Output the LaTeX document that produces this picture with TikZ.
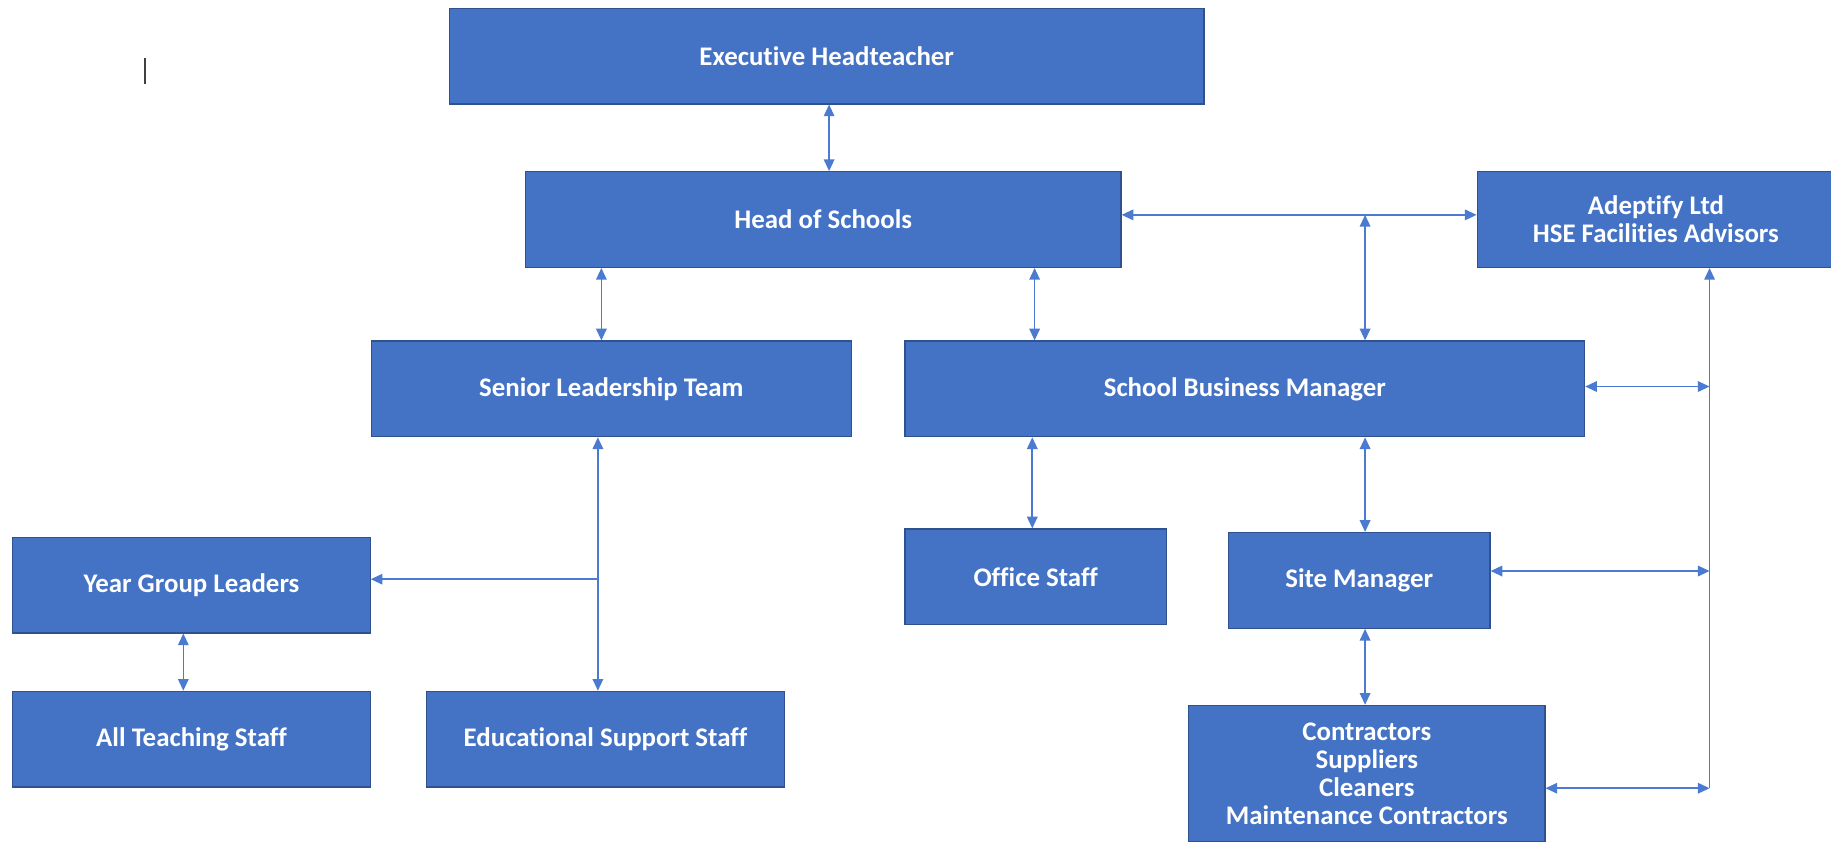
\documentclass[tikz,border=0pt]{standalone}
\usepackage{fontspec}
\setmainfont[Ligatures={NoCommon}]{Carlito}
\usetikzlibrary{arrows.meta}

\definecolor{roleblue}{HTML}{4472C4}
\definecolor{roleedge}{HTML}{2F528F}
\definecolor{linkblue}{HTML}{4A7BD0}
\definecolor{caretgray}{HTML}{404040}

\tikzset{
  role/.style={draw=roleedge, fill=roleblue, line width=1pt, text=white,
    font=\bfseries\fontsize{23}{24}\selectfont, align=center,
    inner sep=0pt, minimum height=82pt},
  link/.style={draw=linkblue, line width=1.4pt, {Triangle[length=10pt,width=9pt]}-{Triangle[length=10pt,width=9pt]}},
  onelink/.style={draw=linkblue, line width=1.4pt, -{Triangle[length=10pt,width=9pt]}},
}

\begin{document}
\begin{tikzpicture}[x=1pt, y=-1pt]

    \useasboundingbox (0,0) rectangle (1568,721);

    % Define nodes
    \node[role, minimum width=646pt]                      (exec)   at (708,48)      {Executive Headteacher};
    \node[role, minimum width=510pt]                      (hos)    at (705,188)     {Head of Schools};
    \node[role, minimum width=306pt]                      (adept)  at (1418,188)    {Adeptify Ltd\\HSE Facilities Advisors};
    \node[role, minimum width=411pt]                      (slt)    at (523.5,333)   {Senior Leadership Team};
    \node[role, minimum width=582pt]                      (sbm)    at (1066,333)    {School Business Manager};
    \node[role, minimum width=306pt]                      (ygl)    at (164,501)     {Year Group Leaders};
    \node[role, minimum width=306pt]                      (teach)  at (164,633)     {All Teaching Staff};
    \node[role, minimum width=307pt]                      (ess)    at (518.5,633)   {Educational Support Staff};
    \node[role, minimum width=224pt]                      (office) at (887,494)     {Office Staff};
    \node[role, minimum width=224pt]                      (site)   at (1164,497)    {Site Manager};
    \node[role, minimum width=305pt, minimum height=117pt] (contr) at (1170.5,662.5) {Contractors\\Suppliers\\Cleaners\\Maintenance Contractors};

    % Junctions
    \coordinate (tee)   at (1169,184);
    \coordinate (bus)   at (1464,675);
    \coordinate (split) at (512,496);

    % Connect the nodes
    \draw[link] (exec.south -| 710,0) -- (hos.north -| 710,0);
    \draw[link] (hos.south -| 515,0) -- (slt.north -| 515,0);
    \draw[link] (hos.south -| 886,0) -- (sbm.north -| 886,0);
    \draw[link] (hos.east |- tee) -- (adept.west |- tee);
    \draw[link] (tee) -- (sbm.north -| tee);
    \draw[onelink] (bus) -- (adept.south -| bus);
    \draw[link] (sbm.east |- 0,331) -- (bus |- 0,331);
    \draw[link] (site.east |- 0,489) -- (bus |- 0,489);
    \draw[link] (contr.east |- bus) -- (bus);
    \draw[link] (slt.south -| split) -- (ess.north -| split);
    \draw[onelink] (split) -- (ygl.east |- split);
    \draw[link] (ygl.south -| 157,0) -- (teach.north -| 157,0);
    \draw[link] (sbm.south -| 884,0) -- (office.north -| 884,0);
    \draw[link] (sbm.south -| tee) -- (site.north -| tee);
    \draw[link] (site.south -| tee) -- (contr.north -| tee);

    % Text caret
    \draw[caretgray, line width=1.6pt] (124,50) -- (124,72);

\end{tikzpicture}
\end{document}
